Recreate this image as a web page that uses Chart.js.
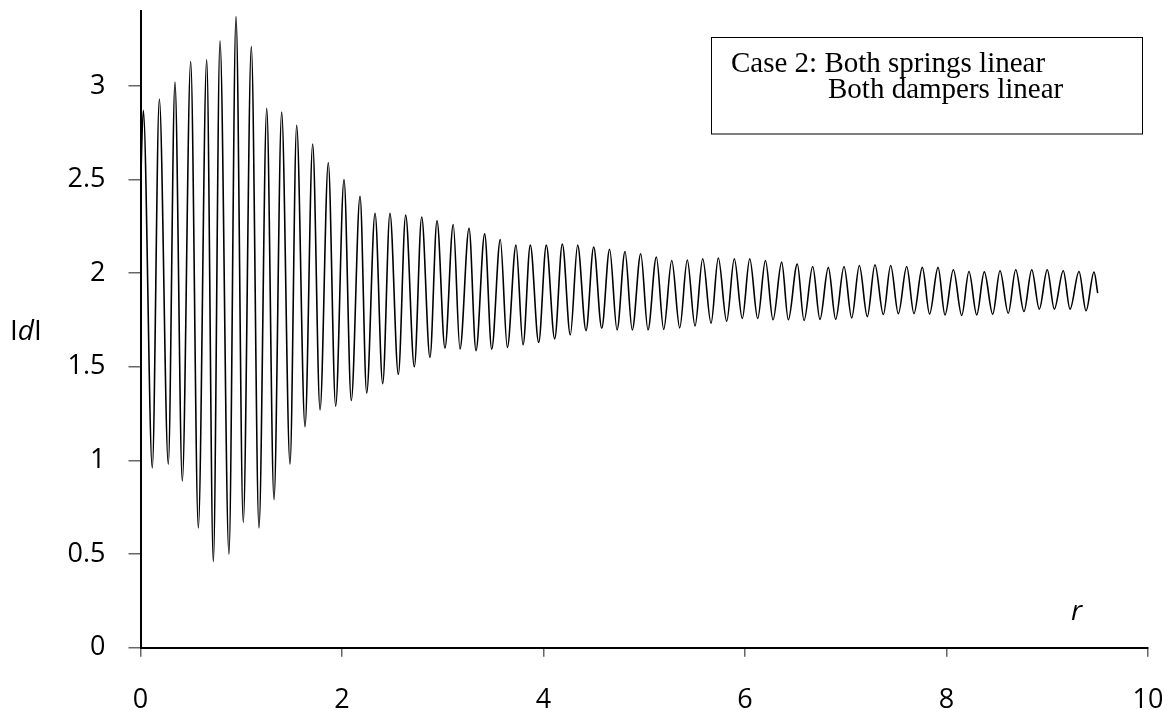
<!DOCTYPE html>
<html lang="en">
<head>
    <meta charset="UTF-8">
    <title>|d| versus r</title>
    <script src="https://cdn.jsdelivr.net/npm/chart.js"></script>
    <style>
        html, body { margin: 0; padding: 0; background: #fff; }
        #wrap { width: 1170px; height: 710px; }
    </style>
</head>
<body>

<div id="wrap">
    <canvas id="dChart" width="1170" height="710"></canvas>
</div>

<script>
// r positions of the start, each peak/trough and the end of the response curve
const rValues = [
    0, 0.028, 0.117, 0.187, 0.276, 0.342, 0.415, 0.498, 0.574, 0.657, 0.723,
    0.789, 0.878, 0.948, 1.020, 1.100, 1.176, 1.253, 1.325, 1.401, 1.484, 1.550,
    1.633, 1.709, 1.782, 1.864, 1.937, 2.020, 2.092, 2.179, 2.245, 2.328,
    2.404, 2.476, 2.559, 2.632, 2.718, 2.791, 2.873, 2.943, 3.022, 3.104,
    3.171, 3.261, 3.330, 3.416, 3.486, 3.571, 3.641, 3.727, 3.797, 3.869,
    3.952, 4.028, 4.111, 4.187, 4.266, 4.339, 4.422, 4.498, 4.578, 4.656,
    4.730, 4.809, 4.881, 4.965, 5.037, 5.120, 5.193, 5.273, 5.352, 5.427,
    5.504, 5.580, 5.663, 5.735, 5.818, 5.894, 5.973, 6.047, 6.126, 6.203,
    6.278, 6.364, 6.430, 6.519, 6.586, 6.672, 6.744, 6.827, 6.900, 6.983,
    7.059, 7.135, 7.214, 7.290, 7.373, 7.446, 7.522, 7.605, 7.677, 7.760,
    7.832, 7.916, 7.985, 8.068, 8.151, 8.223, 8.300, 8.375, 8.459, 8.531,
    8.613, 8.687, 8.769, 8.846, 8.921, 9.000, 9.070, 9.159, 9.226, 9.315,
    9.385, 9.464, 9.501
];

// |d| at those positions
const dValues = [
    2.45, 2.87, 0.96, 2.93, 0.98, 3.02, 0.89, 3.13, 0.64, 3.14, 0.46,
    3.24, 0.50, 3.37, 0.67, 3.21, 0.64, 2.88, 0.79, 2.86, 0.98, 2.79,
    1.18, 2.69, 1.27, 2.59, 1.29, 2.50, 1.32, 2.41, 1.36, 2.32,
    1.41, 2.32, 1.46, 2.31, 1.50, 2.30, 1.55, 2.28, 1.60, 2.26,
    1.595, 2.24, 1.586, 2.21, 1.594, 2.18, 1.604, 2.15, 1.617, 2.15,
    1.631, 2.15, 1.649, 2.156, 1.670, 2.15, 1.693, 2.14, 1.706, 2.128,
    1.697, 2.116, 1.697, 2.104, 1.697, 2.086, 1.700, 2.068, 1.708, 2.070,
    1.718, 2.077, 1.733, 2.081, 1.743, 2.077, 1.758, 2.077, 1.758, 2.068,
    1.751, 2.059, 1.751, 2.049, 1.747, 2.036, 1.753, 2.031, 1.754, 2.036,
    1.761, 2.041, 1.768, 2.045, 1.779, 2.041, 1.784, 2.036, 1.784, 2.031,
    1.782, 2.031, 1.777, 2.018, 1.774, 2.009, 1.777, 2.007, 1.781, 2.013,
    1.786, 2.018, 1.795, 2.018, 1.808, 2.018, 1.808, 2.013, 1.808, 2.009,
    1.799, 2.006, 1.893
];

const xTicks = [0, 2, 4, 6, 8, 10];
const yTicks = [0, 0.5, 1, 1.5, 2, 2.5, 3];
const legendLines = ['Case 2: Both springs linear', 'Both dampers linear'];

const tickFont = { family: "'Open Sans', sans-serif", size: 27 };

// text box, axis names
const extras = {
    id: 'extras',
    afterDraw(chart) {
        const ctx = chart.ctx;
        ctx.save();

        ctx.strokeStyle = '#000';
        ctx.lineWidth = 1;
        ctx.strokeRect(711.5, 37.5, 431, 96.5);

        ctx.fillStyle = '#000';
        ctx.textBaseline = 'alphabetic';
        ctx.textAlign = 'left';
        ctx.font = "29px 'Liberation Serif', 'Times New Roman', serif";
        ctx.fillText(legendLines[0], 731, 72);
        ctx.fillText(legendLines[1], 828, 97.5);

        // |d|
        let x = 10;
        ctx.font = "28px 'Open Sans', sans-serif";
        ctx.fillText('I', x, 340);
        x += ctx.measureText('I').width;
        ctx.font = "italic 28px 'Open Sans', sans-serif";
        ctx.fillText('d', x, 340);
        x += ctx.measureText('d').width;
        ctx.font = "28px 'Open Sans', sans-serif";
        ctx.fillText('I', x, 340);

        ctx.font = "italic 28px 'Open Sans', sans-serif";
        ctx.fillText('r', 1071, 620);

        ctx.restore();
    }
};

const ctx = document.getElementById('dChart').getContext('2d');
new Chart(ctx, {
    type: 'line',
    data: {
        datasets: [{
            data: rValues.map((r, i) => ({ x: r, y: dValues[i] })),
            borderColor: '#000',
            borderWidth: 1.6,
            pointRadius: 0,
            fill: false,
            cubicInterpolationMode: 'monotone'
        }]
    },
    options: {
        responsive: false,
        animation: false,
        events: [],
        layout: { padding: { top: 11, right: 22, left: 0, bottom: 0 } },
        plugins: {
            legend: { display: false },
            tooltip: { enabled: false }
        },
        scales: {
            x: {
                type: 'linear',
                min: 0,
                max: 10,
                afterBuildTicks: scale => { scale.ticks = xTicks.map(v => ({ value: v })); },
                afterFit: scale => {
                    scale.height = 62.3;
                    scale.paddingLeft = 0;
                    scale.paddingRight = 0;
                },
                ticks: { color: '#000', font: tickFont, padding: 27, maxRotation: 0, callback: v => String(v) },
                grid: { drawOnChartArea: false, tickLength: 9, color: '#666', lineWidth: 1.5 },
                border: { color: '#000', width: 2 }
            },
            y: {
                type: 'linear',
                min: 0,
                max: 3.4,
                afterBuildTicks: scale => { scale.ticks = yTicks.map(v => ({ value: v })); },
                afterFit: scale => {
                    scale.width = 140.5;
                    scale.paddingTop = 0;
                    scale.paddingBottom = 0;
                },
                ticks: { color: '#000', font: tickFont, padding: 23, callback: v => String(v) },
                grid: { drawOnChartArea: false, tickLength: 12, color: '#666', lineWidth: 1.5 },
                border: { color: '#000', width: 2 }
            }
        }
    },
    plugins: [extras]
});
</script>
</body>
</html>
